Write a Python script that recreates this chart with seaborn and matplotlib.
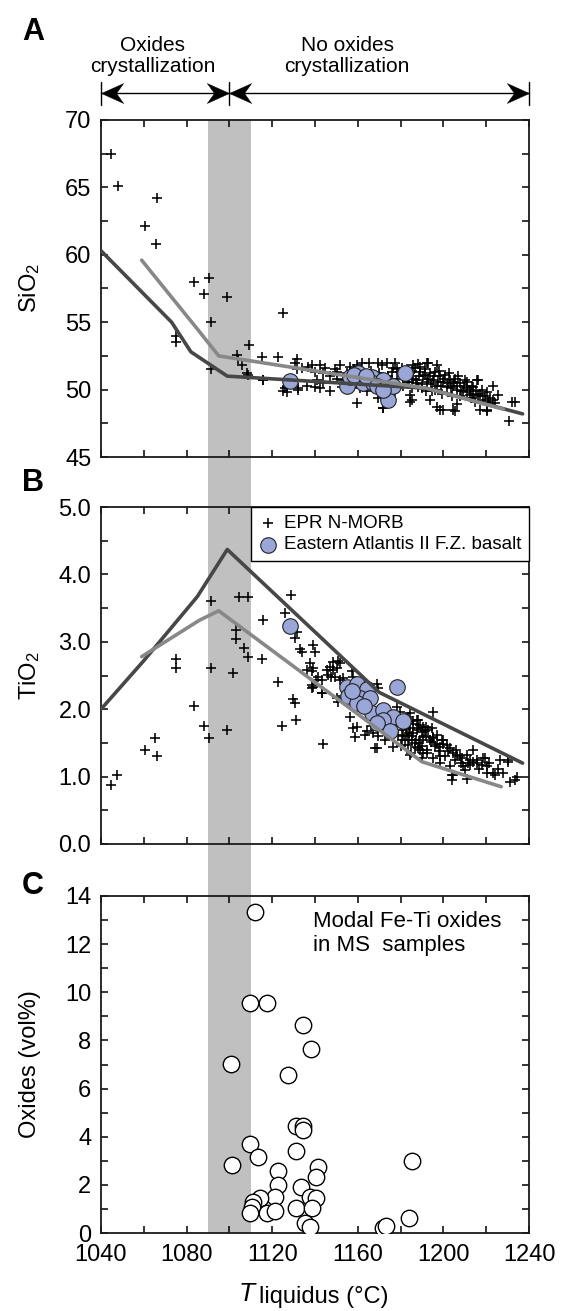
import matplotlib
matplotlib.use("Agg")
import matplotlib.pyplot as plt
import seaborn as sns
from matplotlib.patches import Rectangle
from matplotlib.path import Path
from matplotlib.transforms import blended_transform_factory
from matplotlib.ticker import MultipleLocator, FormatStrFormatter

# ---------------------------------------------------------------- data
# EPR N-MORB glasses: liquidus temperature (deg C) vs SiO2 (wt%)
epr_T_si = [1044.5, 1047.8, 1066.0, 1060.6, 1065.5, 1083.6, 1090.5, 1088.3, 1099.0, 1091.4,
            1075.0, 1075.0, 1091.4, 1125.2, 1109.0, 1103.4, 1104.2, 1105.7, 1115.1, 1122.9,
            1131.4, 1108.8, 1115.8, 1126.8, 1132.2, 1126.8, 1159.5, 1171.6, 1192.5, 1216.3,
            1223.3, 1230.8, 1233.5, 1231.9, 1205.4, 1198.4, 1220.2, 1224.1, 1184.4, 1185.2,
            1108.1, 1115.9, 1130.6, 1131.4, 1126.0, 1132.2, 1125.2,
            1138.4, 1142.3, 1144.7, 1149.3, 1140.0, 1140.8, 1140.0, 1142.3, 1147.0, 1150.1,
            1152.5, 1154.8, 1156.4, 1161.8, 1165.0, 1169.6, 1171.2, 1173.5, 1177.4, 1178.2,
            1169.6, 1171.9, 1186.0, 1189.1, 1193.0, 1184.4, 1193.7, 1196.9, 1200.0, 1204.6,
            1206.2, 1215.5, 1214.8, 1217.1, 1220.2, 1223.3, 1225.7,
            1179.7, 1181.3, 1182.8, 1184.4, 1186.0, 1187.5, 1189.1, 1190.6, 1192.2, 1193.7,
            1195.3, 1196.9, 1198.4, 1200.0, 1201.5, 1203.1, 1204.6, 1206.2, 1207.8, 1209.3,
            1210.9, 1212.4, 1214.0, 1216.3, 1218.7, 1221.0, 1182.8, 1186.7, 1191.4, 1196.1,
            1200.8, 1205.4, 1181.3, 1185.2, 1189.9, 1194.5, 1199.2, 1203.9, 1207.8,
            1143.9, 1147.0, 1150.1, 1153.2, 1151.7, 1159.5, 1161.0, 1164.1, 1169.2, 1173.5,
            1175.8, 1178.2, 1143.9, 1136.1, 1136.9, 1133.8, 1158.0, 1166.0, 1170.0, 1176.0,
            1188.0, 1197.0, 1211.0, 1213.5,
            1183.5, 1185.5, 1187.0, 1188.5, 1190.0, 1191.5, 1193.0, 1194.0, 1195.5, 1197.5,
            1199.0, 1200.5, 1202.0, 1203.5, 1205.0, 1206.5, 1208.0, 1209.5, 1211.0, 1212.5,
            1213.5, 1215.0, 1217.0, 1219.5, 1222.0, 1188.0, 1192.0, 1196.0, 1184.0, 1180.5,
            1178.5, 1176.5, 1174.0, 1198.0, 1202.5, 1207.0, 1210.0, 1214.0, 1218.0, 1220.5]
epr_sio2 = [67.5, 65.1, 64.2, 62.1, 60.8, 58.0, 58.3, 57.1, 56.9, 55.0,
            54.0, 53.5, 51.5, 55.7, 53.3, 52.6, 52.3, 51.8, 52.4, 52.4,
            52.3, 51.1, 50.7, 49.8, 50.1, 50.3, 49.0, 48.6, 52.0, 50.7,
            50.3, 47.7, 49.1, 49.1, 48.4, 48.5, 48.5, 49.0, 49.1, 49.2,
            51.2, 50.7, 52.0, 51.5, 50.1, 50.0, 49.9,
            51.8, 51.8, 51.6, 51.5, 51.3, 50.7, 50.2, 50.1, 49.9, 50.8,
            50.2, 51.2, 51.7, 52.0, 52.0, 52.0, 51.8, 52.0, 52.0, 51.5,
            49.4, 48.6, 51.8, 51.7, 52.0, 49.6, 49.2, 48.7, 48.5, 48.5,
            48.9, 50.7, 49.1, 48.5, 48.4, 49.2, 49.6,
            51.3, 51.0, 50.6, 51.2, 50.8, 50.5, 51.3, 51.0, 50.6, 51.2,
            50.7, 50.3, 51.0, 50.6, 50.2, 50.7, 50.3, 50.0, 50.5, 49.9,
            50.1, 49.6, 49.7, 49.5, 49.2, 49.1, 51.5, 51.6, 51.5, 51.3,
            51.1, 50.8, 50.3, 50.1, 50.1, 49.9, 49.7, 49.5, 49.5,
            51.2, 51.0, 51.3, 50.7, 51.8, 51.8, 50.1, 49.9, 50.1, 50.3,
            50.7, 50.1, 50.5, 50.3, 51.7, 51.6, 51.5, 51.4, 51.2, 51.3,
            51.9, 51.8, 50.6, 50.3,
            50.9, 51.4, 50.7, 51.0, 50.4, 51.1, 50.8, 50.4, 51.0, 50.6,
            50.3, 50.8, 50.5, 50.1, 50.6, 50.3, 49.9, 50.3, 49.8, 50.0,
            49.4, 49.9, 49.7, 49.5, 49.4, 50.2, 49.9, 50.0, 50.6, 51.6,
            50.8, 51.6, 51.0, 51.4, 51.2, 51.0, 50.7, 50.2, 50.0, 49.8]

# Eastern Atlantis II F.Z. basalts: SiO2
atl_T_si = [1128.4, 1154.8, 1156.4, 1160.2, 1162.6, 1166.5, 1167.3, 1171.9, 1173.5, 1174.3,
            1176.6, 1182.1, 1158.0, 1164.0, 1169.0, 1172.0]
atl_sio2 = [50.65, 50.3, 50.96, 51.2, 50.5, 50.96, 50.5, 50.7, 49.6, 49.2,
            50.3, 51.2, 51.1, 51.0, 50.3, 50.0]

# EPR N-MORB glasses: TiO2 (wt%)
epr_T_ti = [1044.5, 1047.6, 1060.6, 1065.2, 1066.0, 1075.0, 1075.0, 1083.5, 1088.1, 1090.5,
            1091.3, 1091.3, 1098.7, 1101.8, 1104.5, 1108.8, 1103.1, 1103.1, 1106.8, 1108.8,
            1115.1, 1115.6, 1122.6, 1124.7,
            1128.6, 1126.0, 1129.6, 1130.7, 1131.1, 1131.4, 1130.6, 1133.0, 1133.7, 1139.2,
            1140.0, 1137.6, 1139.2, 1136.1, 1138.4, 1141.5, 1143.1, 1140.7, 1139.2, 1143.1,
            1143.6, 1145.4, 1147.0, 1148.5, 1150.1, 1149.3, 1147.7, 1146.2, 1151.6, 1153.2,
            1151.6, 1148.5, 1157.1, 1157.9, 1150.9, 1156.3, 1159.4, 1168.8, 1169.6, 1150.1,
            1150.9, 1138.4, 1138.8, 1143.4,
            1157.9, 1158.7, 1163.4, 1164.2, 1167.2, 1168.0, 1168.8, 1176.6,
            1178.2, 1179.7, 1182.8, 1184.4, 1185.9, 1187.5, 1189.1, 1190.6, 1193.7, 1195.3,
            1196.8, 1198.4, 1200.0, 1201.5, 1203.1, 1204.6, 1206.2, 1208.5, 1210.9, 1212.4,
            1214.0, 1215.5, 1218.7, 1220.2, 1223.3, 1226.4, 1230.3, 1234.2, 1185.2, 1186.7,
            1192.2, 1184.4, 1189.8, 1195.3, 1198.4, 1200.7, 1203.1, 1204.6, 1210.1, 1181.3,
            1180.5, 1182.8, 1183.6, 1185.9, 1188.3, 1189.1, 1190.6, 1182.0, 1191.4, 1193.0,
            1183.6, 1188.3, 1178.9, 1180.5, 1195.3, 1184.3, 1187.5, 1192.1, 1205.4, 1212.4,
            1215.5, 1219.4, 1207.8, 1198.4, 1190.6, 1200.0, 1195.3, 1230.3, 1203.9, 1203.9,
            1210.9, 1220.2, 1224.1, 1231.1, 1233.5, 1214.0, 1217.9, 1209.3,
            1170.4, 1172.0, 1175.0, 1177.0, 1173.5, 1160.0, 1163.0, 1155.0, 1153.0,
            1179.5, 1181.0, 1182.5, 1184.0, 1185.5, 1187.0, 1188.5, 1190.0, 1183.0, 1186.0,
            1188.0, 1190.0, 1192.0, 1194.0, 1196.0, 1198.0, 1181.0, 1184.0, 1186.5, 1189.0,
            1192.5, 1179.0, 1177.5, 1176.0, 1180.0, 1185.0, 1194.5, 1197.0, 1199.5, 1202.0,
            1206.0, 1208.0, 1211.5, 1216.5, 1221.5, 1225.5, 1228.0, 1172.5, 1169.5, 1166.0]
epr_tio2 = [0.88, 1.02, 1.40, 1.58, 1.31, 2.74, 2.61, 2.05, 1.75, 1.58,
            3.61, 2.61, 1.69, 2.54, 3.67, 3.67, 3.18, 3.04, 2.91, 2.78,
            2.74, 3.32, 2.40, 1.75,
            3.69, 3.43, 2.15, 2.09, 1.84, 3.15, 3.05, 2.90, 2.85, 2.95,
            2.85, 2.68, 2.61, 2.58, 2.56, 2.48, 2.43, 2.43, 2.33, 2.24,
            1.48, 2.58, 2.63, 2.58, 2.61, 2.48, 2.48, 2.51, 2.43, 2.46,
            2.68, 2.70, 2.56, 2.48, 2.11, 1.89, 1.74, 2.38, 2.31, 2.16,
            2.71, 2.36, 2.31, 2.24,
            1.72, 1.59, 1.62, 1.67, 1.64, 1.42, 1.42, 1.44,
            2.04, 1.96, 1.79, 1.72, 1.64, 1.69, 1.54, 1.59, 1.54, 1.57,
            1.49, 1.44, 1.54, 1.47, 1.42, 1.35, 1.32, 1.27, 1.32, 1.25,
            1.40, 1.20, 1.27, 1.15, 1.05, 1.25, 1.22, 1.00, 1.54, 1.44,
            1.40, 1.32, 1.27, 1.27, 1.20, 1.30, 1.15, 1.02, 1.10, 1.84,
            1.69, 1.62, 1.89, 1.82, 1.84, 1.77, 1.74, 1.54, 1.67, 1.69,
            1.47, 1.42, 1.62, 1.54, 1.96, 1.94, 1.84, 1.74, 1.25, 1.17,
            1.25, 1.27, 1.30, 1.30, 1.35, 1.49, 1.59, 1.25, 1.02, 0.95,
            0.97, 1.05, 1.02, 0.92, 0.95, 1.22, 1.17, 1.15,
            1.98, 1.88, 1.80, 1.75, 1.70, 2.30, 2.20, 2.30, 2.20,
            1.80, 1.75, 1.70, 1.65, 1.60, 1.55, 1.50, 1.45, 1.85, 1.78,
            1.72, 1.66, 1.60, 1.52, 1.45, 1.38, 1.60, 1.55, 1.50, 1.40,
            1.35, 1.90, 1.80, 1.65, 1.45, 1.35, 1.72, 1.62, 1.55, 1.38,
            1.40, 1.20, 1.20, 1.12, 1.20, 1.12, 1.05, 1.55, 1.60, 1.75]

# Eastern Atlantis II F.Z. basalts: TiO2
atl_T_ti = [1128.3, 1178.2, 1154.8, 1159.5, 1164.2, 1155.6, 1161.0, 1165.7, 1159.5, 1166.5,
            1171.9, 1176.6, 1181.3, 1171.9, 1175.0, 1168.8, 1157.5, 1163.0]
atl_tio2 = [3.24, 2.33, 2.33, 2.38, 2.30, 2.20, 2.16, 2.16, 2.09, 1.94,
            1.99, 1.89, 1.83, 1.84, 1.67, 1.79, 2.27, 2.05]

# Fractional crystallization models
model1_T_si = [1040, 1073, 1082, 1099, 1192, 1237]
model1_sio2 = [60.3, 55.0, 52.8, 51.0, 50.1, 48.2]
model2_T_si = [1059, 1085.5, 1095, 1192, 1228]
model2_sio2 = [59.6, 54.4, 52.5, 50.1, 48.55]
model1_T_ti = [1040, 1060, 1085, 1099, 1170, 1237]
model1_tio2 = [2.0, 2.72, 3.67, 4.37, 2.25, 1.2]
model2_T_ti = [1059, 1086, 1095, 1190, 1227]
model2_tio2 = [2.78, 3.32, 3.46, 1.22, 0.85]

# Modal Fe-Ti oxides in MS samples
ms_T = [1112.0, 1109.6, 1117.4, 1134.2, 1138.0, 1100.6, 1127.5, 1131.0, 1134.2, 1134.5,
        1109.6, 1131.1, 1113.5, 1101.4, 1185.5, 1141.2, 1122.9, 1140.3, 1122.9, 1133.3,
        1121.3, 1114.3, 1111.2, 1110.4, 1109.6, 1117.4, 1121.3, 1131.1, 1137.7, 1140.3,
        1138.8, 1135.3, 1137.7, 1171.6, 1173.2, 1184.1]
ms_oxides = [13.35, 9.54, 9.54, 8.64, 7.63, 7.02, 6.55, 4.45, 4.45, 4.28,
             3.70, 3.42, 3.14, 2.81, 3.00, 2.76, 2.59, 2.31, 1.99, 1.90,
             1.51, 1.47, 1.30, 1.09, 0.84, 0.84, 0.93, 1.03, 1.51, 1.44,
             1.03, 0.43, 0.26, 0.22, 0.29, 0.64]

oxide_window = (1090, 1110)
regime_bounds = [1040, 1100, 1240]
regime_labels = ["Oxides\ncrystallization", "No oxides\ncrystallization"]
regime_label_T = [1064, 1155]

# ---------------------------------------------------------------- style
sns.set_style("ticks")
plt.rcParams["font.family"] = ["Liberation Sans", "DejaVu Sans"]
plt.rcParams["mathtext.fontset"] = "custom"
plt.rcParams["mathtext.rm"] = "Liberation Sans"
plt.rcParams["mathtext.it"] = "Liberation Sans:italic"
plt.rcParams["mathtext.bf"] = "Liberation Sans:bold"
for key in ("text.color", "axes.labelcolor", "xtick.color", "ytick.color"):
    plt.rcParams[key] = "black"

DARK = "#474747"
LIGHT = "#888888"
BLUE = "#9aa6d8"
BAND = "#c0c0c0"

W, H = 563, 1311
fig = plt.figure(figsize=(W / 100, H / 100), dpi=100)
fig.patch.set_facecolor("white")

left, width, height = 101 / W, 428 / W, 337 / H
ax_a = fig.add_axes([left, 1 - 457 / H, width, height])
ax_b = fig.add_axes([left, 1 - 844 / H, width, height])
ax_c = fig.add_axes([left, 1 - 1233 / H, width, height])
axes = [ax_a, ax_b, ax_c]

for ax in axes:
    ax.set_facecolor("none")
    ax.set_xlim(1040, 1240)
    ax.xaxis.set_major_locator(MultipleLocator(40))
    ax.xaxis.set_minor_locator(MultipleLocator(20))
    ax.tick_params(which="both", direction="in", top=True, right=True,
                   length=5, width=1.1, colors="black", labelsize=17)
    ax.tick_params(axis="y", which="major", pad=7)
    ax.tick_params(axis="x", which="major", pad=8)
    for sp in ax.spines.values():
        sp.set_linewidth(1.3)
        sp.set_color("#1a1a1a")
    ax.grid(False)

for ax in (ax_a, ax_b):
    ax.tick_params(axis="x", labelbottom=False)

# oxide-saturation window spanning the three panels
band_tr = blended_transform_factory(ax_a.transData, fig.transFigure)
y0 = 1 - 1233 / H
y1 = 1 - 120 / H
fig.add_artist(Rectangle((oxide_window[0], y0), oxide_window[1] - oxide_window[0], y1 - y0,
                         transform=band_tr, facecolor=BAND, edgecolor="none", zorder=-1))

CROSS = dict(marker="+", s=55, color="black", linewidth=1.15)
DISC = dict(s=125, color=BLUE, edgecolor="#222222", linewidth=0.8)

# ---------------------------------------------------------------- panel A
sns.scatterplot(x=epr_T_si, y=epr_sio2, ax=ax_a, zorder=2, **CROSS)
sns.scatterplot(x=atl_T_si, y=atl_sio2, ax=ax_a, zorder=3, **DISC)
sns.lineplot(x=model1_T_si, y=model1_sio2, sort=False, estimator=None, color=DARK,
             linewidth=2.6, ax=ax_a, zorder=4)
sns.lineplot(x=model2_T_si, y=model2_sio2, sort=False, estimator=None, color=LIGHT,
             linewidth=2.6, ax=ax_a, zorder=4)
ax_a.set_ylim(45, 70)
ax_a.yaxis.set_major_locator(MultipleLocator(5))
ax_a.yaxis.set_minor_locator(MultipleLocator(2.5))
ax_a.set_xlabel("")
ax_a.set_ylabel("SiO$_2$", fontsize=17, va="center")
ax_a.yaxis.set_label_coords(-0.166, 0.5)

# crystallization regimes above panel A
top_tr = blended_transform_factory(ax_a.transData, ax_a.transAxes)


def stealth(pointing_right):
    s = 1 if pointing_right else -1
    verts = [(0, 0), (-2 * s, 0.9), (-1.35 * s, 0), (-2 * s, -0.9), (0, 0)]
    codes = [Path.MOVETO, Path.LINETO, Path.LINETO, Path.LINETO, Path.CLOSEPOLY]
    return Path(verts, codes)


arrow_y = 1.08
for x in regime_bounds:
    ax_a.plot([x, x], [1.045, 1.113], transform=top_tr, clip_on=False,
              color="black", lw=1.0)
for xa, xb in zip(regime_bounds[:-1], regime_bounds[1:]):
    ax_a.plot([xa, xb], [arrow_y, arrow_y], transform=top_tr, clip_on=False,
              color="black", lw=1.0)
    ax_a.plot([xa], [arrow_y], transform=top_tr, clip_on=False, ls="none",
              marker=stealth(False), ms=32, color="black", mec="black", mew=0.3)
    ax_a.plot([xb], [arrow_y], transform=top_tr, clip_on=False, ls="none",
              marker=stealth(True), ms=32, color="black", mec="black", mew=0.3)
for xt, lab in zip(regime_label_T, regime_labels):
    ax_a.text(xt, 1.191, lab, transform=top_tr, ha="center", va="center",
              multialignment="center", fontsize=15, linespacing=1.15)

# ---------------------------------------------------------------- panel B
sns.scatterplot(x=epr_T_ti, y=epr_tio2, ax=ax_b, zorder=2, label="EPR N-MORB", **CROSS)
sns.scatterplot(x=atl_T_ti, y=atl_tio2, ax=ax_b, zorder=3,
                label="Eastern Atlantis II F.Z. basalt", **DISC)
sns.lineplot(x=model1_T_ti, y=model1_tio2, sort=False, estimator=None, color=DARK,
             linewidth=2.6, ax=ax_b, zorder=4)
sns.lineplot(x=model2_T_ti, y=model2_tio2, sort=False, estimator=None, color=LIGHT,
             linewidth=2.6, ax=ax_b, zorder=4)
ax_b.set_ylim(0, 5)
ax_b.yaxis.set_major_locator(MultipleLocator(1))
ax_b.yaxis.set_minor_locator(MultipleLocator(0.5))
ax_b.yaxis.set_major_formatter(FormatStrFormatter("%.1f"))
ax_b.set_xlabel("")
ax_b.set_ylabel("TiO$_2$", fontsize=17, va="center")
ax_b.yaxis.set_label_coords(-0.166, 0.5)
leg = ax_b.legend(loc="upper right", bbox_to_anchor=(1, 1), borderaxespad=0,
                  frameon=True, fancybox=False, edgecolor="black", framealpha=1,
                  fontsize=13.5, handletextpad=0.35, borderpad=0.4, labelspacing=0.25,
                  handlelength=1.0)
leg.get_frame().set_linewidth(1.0)
leg.set_zorder(6)

# ---------------------------------------------------------------- panel C
sns.scatterplot(x=ms_T, y=ms_oxides, s=140, facecolor="white", edgecolor="black",
                linewidth=1.0, ax=ax_c, zorder=3)
ax_c.set_ylim(0, 14)
ax_c.yaxis.set_major_locator(MultipleLocator(2))
ax_c.yaxis.set_minor_locator(MultipleLocator(1))
ax_c.set_xlabel("")
ax_c.set_ylabel("Oxides (vol%)", fontsize=17, va="center")
ax_c.yaxis.set_label_coords(-0.166, 0.5)
ax_c.text(0.495, 0.955, "Modal Fe-Ti oxides\nin MS  samples", transform=ax_c.transAxes,
          ha="left", va="top", fontsize=16, linespacing=1.2)
ax_c.text(0.36, -0.2018, "T", transform=ax_c.transAxes, ha="right", va="baseline",
          fontsize=19, style="italic")
ax_c.text(0.369, -0.2077, "liquidus (°C)", transform=ax_c.transAxes, ha="left",
          va="baseline", fontsize=17)

# panel letters
for letter, base in zip("ABC", [40, 491, 894]):
    fig.text(22 / W, 1 - base / H, letter, fontsize=22, fontweight="bold",
             ha="left", va="baseline")

fig.savefig("out.png", dpi=100)
